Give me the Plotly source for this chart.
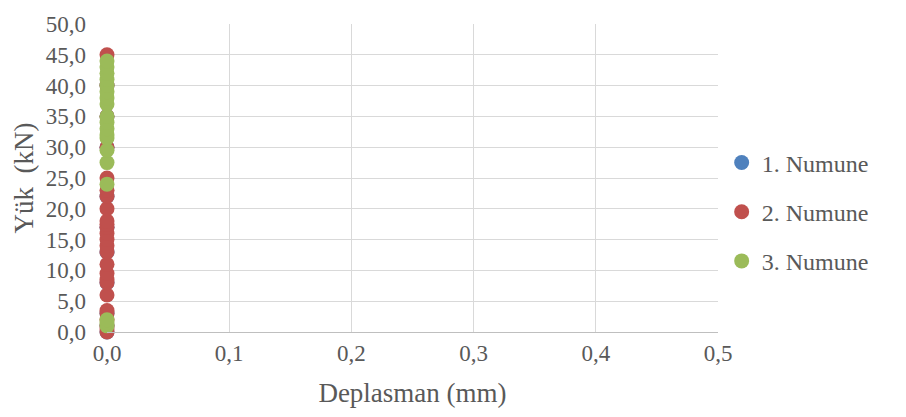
import plotly.graph_objects as go

# Data (x = Deplasman mm, y = Yük kN)
y1 = [0.0, 1.0, 3.0, 8.0, 13.0, 17.0, 22.0, 30.0, 35.0, 40.0]
x1 = [0.0] * len(y1)
y2 = [0.0, 0.5, 1.0, 2.0, 3.0, 3.5, 6.0, 8.0, 8.5, 9.5, 11.0, 13.0, 14.0, 15.0,
      16.0, 17.0, 17.5, 18.0, 20.0, 22.0, 23.0, 25.0, 30.0, 35.0, 40.0, 45.0]
x2 = [0.0] * len(y2)
y3 = [1.0, 1.5, 2.0, 24.0, 27.5, 29.5, 31.5, 32.0, 33.0, 34.0, 35.0, 37.0, 38.0,
      39.0, 40.0, 41.0, 42.0, 43.0, 44.0]
x3 = [0.0] * len(y3)

names = ["1. Numune", "2. Numune", "3. Numune"]
colors = ["#4f81bd", "#c0504d", "#9bbb59"]

xticks = [0.0, 0.1, 0.2, 0.3, 0.4, 0.5]
xticklabels = ["0,0", "0,1", "0,2", "0,3", "0,4", "0,5"]
yticks = [0, 5, 10, 15, 20, 25, 30, 35, 40, 45, 50]
yticklabels = ["0,0", "5,0", "10,0", "15,0", "20,0", "25,0", "30,0", "35,0", "40,0", "45,0", "50,0"]

fig = go.Figure()
for i, (xs, ys) in enumerate([(x1, y1), (x2, y2), (x3, y3)]):
    fig.add_trace(go.Scatter(
        x=xs, y=ys, mode="markers", name=names[i], legendgroup=names[i],
        marker=dict(color=colors[i], size=15, line=dict(width=0)),
        cliponaxis=False,
    ))

font = "Liberation Serif, Times New Roman, serif"
fig.update_layout(
    width=906, height=417,
    margin=dict(l=107, r=188, t=18, b=85),
    paper_bgcolor="white", plot_bgcolor="white",
    font=dict(family=font, color="#595959", size=21),
    legend=dict(x=1.006, y=0.39, xanchor="left", yanchor="middle",
                font=dict(size=24, color="#595959"), tracegroupgap=15,
                itemwidth=30),
    xaxis=dict(range=[0, 0.5], tickvals=xticks, ticktext=xticklabels,
               showgrid=True, gridcolor="#d9d9d9", gridwidth=1,
               zeroline=False, showline=True, linecolor="#bfbfbf", linewidth=1,
               ticks="", tickfont=dict(size=23, color="#595959"),
               ticklabelstandoff=0,
               title=dict(text="Deplasman (mm)", font=dict(size=27, color="#595959"), standoff=18)),
    yaxis=dict(range=[0, 50], tickvals=yticks, ticktext=yticklabels,
               showgrid=True, gridcolor="#d9d9d9", gridwidth=1,
               zeroline=False, showline=False, ticks="",
               tickfont=dict(size=23, color="#595959"),
               ticklabelstandoff=20,
               title=dict(text="Yük  (kN)", font=dict(size=27, color="#595959"), standoff=4)),
    showlegend=True,
)

fig.write_html("out.html")
